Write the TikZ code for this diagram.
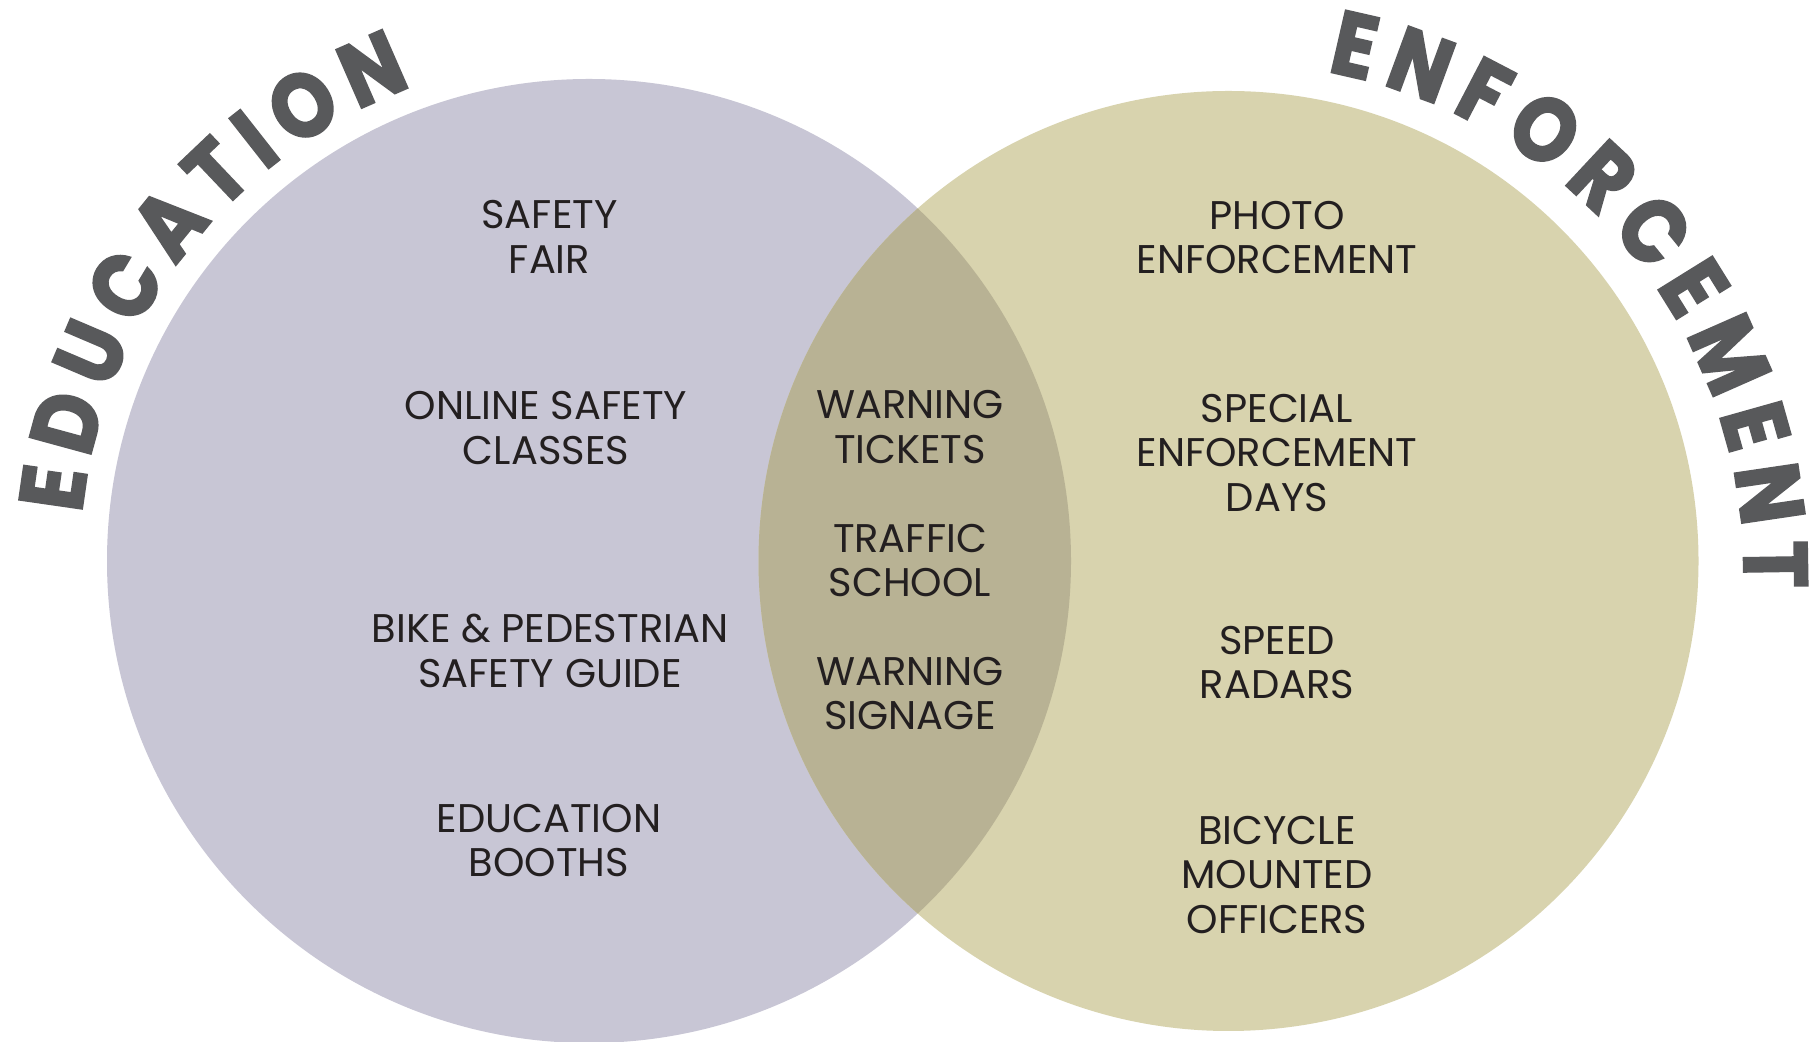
\documentclass[tikz,border=0pt]{standalone}
\usepackage{fontspec}
\setmainfont{Poppins}
\newfontfamily\headfont{Poppins}[UprightFont=* Bold, FakeStretch=0.88, FakeBold=2.5]
\usetikzlibrary{decorations.text}
\definecolor{leftc}{HTML}{C8C6D5}
\definecolor{rightc}{HTML}{D8D3AE}
\definecolor{overc}{HTML}{B8B294}
\definecolor{inkc}{HTML}{231F20}
\definecolor{headc}{HTML}{58595B}
\tikzset{
  item/.style={align=center, inner sep=0pt, text=inkc, font=\fontsize{40}{44.5}\selectfont},
}
\begin{document}
\begin{tikzpicture}[x=1pt,y=1pt]
\useasboundingbox (0,0) rectangle (1809,1041);
\fill[white] (0,0) rectangle (1809,1041);
\coordinate (cL) at (589,480);
\coordinate (cR) at (1228.5,480);
\coordinate (hL) at (589,476);
\coordinate (hR) at (1234,468);
\fill[leftc] (cL) circle[radius=482pt];
\fill[rightc] (cR) circle[radius=470pt];
\begin{scope}
  \clip (cL) circle[radius=482pt];
  \fill[overc] (cR) circle[radius=470pt];
\end{scope}
% headings
\path[decorate, decoration={text along path, text color=headc,
  text={|\headfont\fontsize{90}{90}\selectfont|EDUCATION}, text align={fit to path}}]
  ([shift={(174.2:510pt)}]hL) arc[start angle=174.2, end angle=110.3, radius=510pt];
\path[decorate, decoration={text along path, text color=headc,
  text={|\headfont\fontsize{90}{90}\selectfont|ENFORCEMENT}, text align={fit to path}}]
  ([shift={(79.5:510pt)}]hR) arc[start angle=79.5, end angle=-1.7, radius=510pt];
% items
\node[item] (safetyfair) at (549.5,804) {SAFETY\\FAIR};
\node[item] (online) at (546,613) {ONLINE SAFETY\\CLASSES};
\node[item] (bike) at (550,390) {BIKE \& PEDESTRIAN\\SAFETY GUIDE};
\node[item] (booths) at (549,200.5) {EDUCATION\\BOOTHS};
\node[item] (tickets) at (910,614) {WARNING\\TICKETS};
\node[item] (school) at (910,480.5) {TRAFFIC\\SCHOOL};
\node[item] (signage) at (910,347.5) {WARNING\\SIGNAGE};
\node[item] (photo) at (1277,803.5) {PHOTO\\ENFORCEMENT};
\node[item] (special) at (1277,588) {SPECIAL\\ENFORCEMENT\\DAYS};
\node[item] (speed) at (1277,378.5) {SPEED\\RADARS};
\node[item] (bicycle) at (1277,166.3) {BICYCLE\\MOUNTED\\OFFICERS};
\end{tikzpicture}
\end{document}
